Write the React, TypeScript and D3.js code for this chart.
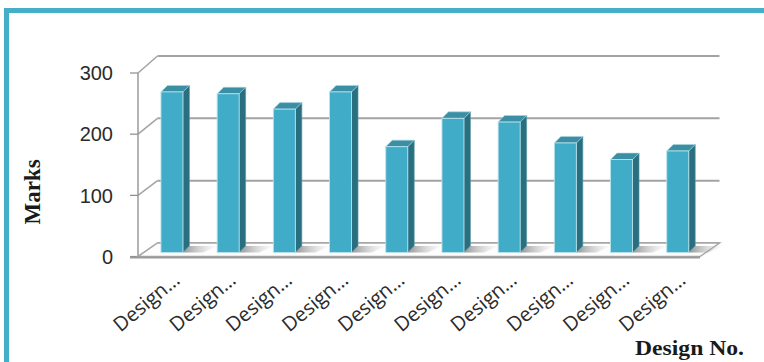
import React from "react";
import * as d3 from "d3";

const categories = ["Design 1", "Design 2", "Design 3", "Design 4", "Design 5", "Design 6", "Design 7", "Design 8", "Design 9", "Design 10"];
const tickLabels = ["Design…", "Design…", "Design…", "Design…", "Design…", "Design…", "Design…", "Design…", "Design…", "Design…"];
const marks = [261, 258, 233, 261, 172, 218, 212, 178, 151, 165];
const yTicks = [0, 100, 200, 300];

const W = 764, H = 362;
const DX = 19.5; // depth shift front->back in x
const T = 0.3; // bar depth position
const BD = 6.5; // bar depth size

export default function App() {
  const xF = d3.scaleBand<string>().domain(categories).range([138, 700]);
  const yF = d3.scaleLinear().domain([0, 300]).range([256.5, 73]);
  const yB = d3.scaleLinear().domain([0, 300]).range([243, 56]);
  const yAt = (v: number, t: number) => yF(v) + (yB(v) - yF(v)) * t;
  const barW = 22;
  const grid = "#a3a3a3";

  const floor = `M138,${yF(0)} L700,${yF(0)} L${700 + DX},${yB(0)} L${138 + DX},${yB(0)} Z`;

  return (
    <svg width={W} height={H} style={{ position: "absolute", left: 0, top: 0, background: "#fff" }}>
      <defs>
        <linearGradient id="shadow" x1="0" x2="1" y1="0" y2="0">
          <stop offset="0" stopColor="#7a7a7a" stopOpacity="0.8" />
          <stop offset="1" stopColor="#bdbdbd" stopOpacity="0" />
        </linearGradient>
      </defs>
      <rect x={6.5} y={10.5} width={800} height={400} fill="#fff" stroke="#45afc7" strokeWidth={5} />

      {/* back wall gridlines */}
      {yTicks.map((t) => (
        <g key={"g" + t}>
          <line x1={138 + DX} x2={700 + DX} y1={yB(t)} y2={yB(t)} stroke={grid} strokeWidth={2} />
          <line x1={138} x2={138 + DX} y1={yF(t)} y2={yB(t)} stroke={grid} strokeWidth={1.5} />
          <line x1={130} x2={138} y1={yF(t)} y2={yF(t)} stroke="#8a8a8a" strokeWidth={1.2} />
          <text x={113} y={yF(t)} dy="0.36em" textAnchor="end" fontFamily="Liberation Sans, Arial, sans-serif" fontSize={20} fill="#2b2b2b">
            {t}
          </text>
        </g>
      ))}
      <line x1={138} x2={138} y1={yF(0)} y2={yF(300)} stroke="#9a9a9a" strokeWidth={1.5} />

      {/* floor */}
      <path d={floor} fill="#fdfdfd" stroke="#a8a8a8" strokeWidth={1.5} />
      <line x1={130} x2={700} y1={yF(0) + 1} y2={yF(0) + 1} stroke="#9a9a9a" strokeWidth={2} />

      {/* bars */}
      {categories.map((c, i) => {
        const v = marks[i];
        const cx = (xF(c) as number) + xF.bandwidth() / 2 + T * DX;
        const xl = cx - barW / 2;
        const xr = cx + barW / 2;
        const yt = yAt(v, T);
        const yb = yAt(0, T);
        return (
          <g key={c}>
            <path
              d={`M${xr},${yb} L${xr + BD},${yb - BD} L${xr + BD + 28},${yb - BD} L${xr + 20},${yb} Z`}
              fill="url(#shadow)"
            />
            <path d={`M${xr},${yt} L${xr + BD},${yt - BD} L${xr + BD},${yb - BD} L${xr},${yb} Z`} fill="#2a6f80" stroke="#5d9aa8" strokeWidth={0.6} />
            <path d={`M${xl},${yt} L${xl + BD},${yt - BD} L${xr + BD},${yt - BD} L${xr},${yt} Z`} fill="#3b8fa4" stroke="#a9d6e1" strokeWidth={0.6} />
            <rect x={xl} y={yt} width={barW} height={yb - yt} fill="#41acc7" stroke="#b9e2ec" strokeWidth={0.9} />
          </g>
        );
      })}

      {/* x tick labels */}
      {categories.map((c, i) => {
        const x = (xF(c) as number) + xF.bandwidth() / 2 + 15;
        const y = 282;
        return (
          <text key={"l" + c} x={x} y={y} textAnchor="end" transform={`rotate(-40 ${x} ${y})`} fontFamily="Open Sans, sans-serif" fontSize={20} fill="#2b2b2b">
            {tickLabels[i]}
          </text>
        );
      })}

      <text
        x={0}
        y={0}
        transform="translate(40 192) rotate(-90)"
        textAnchor="middle"
        fontFamily="Liberation Serif, Times New Roman, serif"
        fontWeight="bold"
        fontSize={23}
        fill="#1a1a1a"
      >
        Marks
      </text>
      <text x={635} y={355} textLength={109} lengthAdjust="spacingAndGlyphs" fontFamily="Liberation Serif, Times New Roman, serif" fontWeight="bold" fontSize={20} fill="#1a1a1a">
        Design No.
      </text>
    </svg>
  );
}
